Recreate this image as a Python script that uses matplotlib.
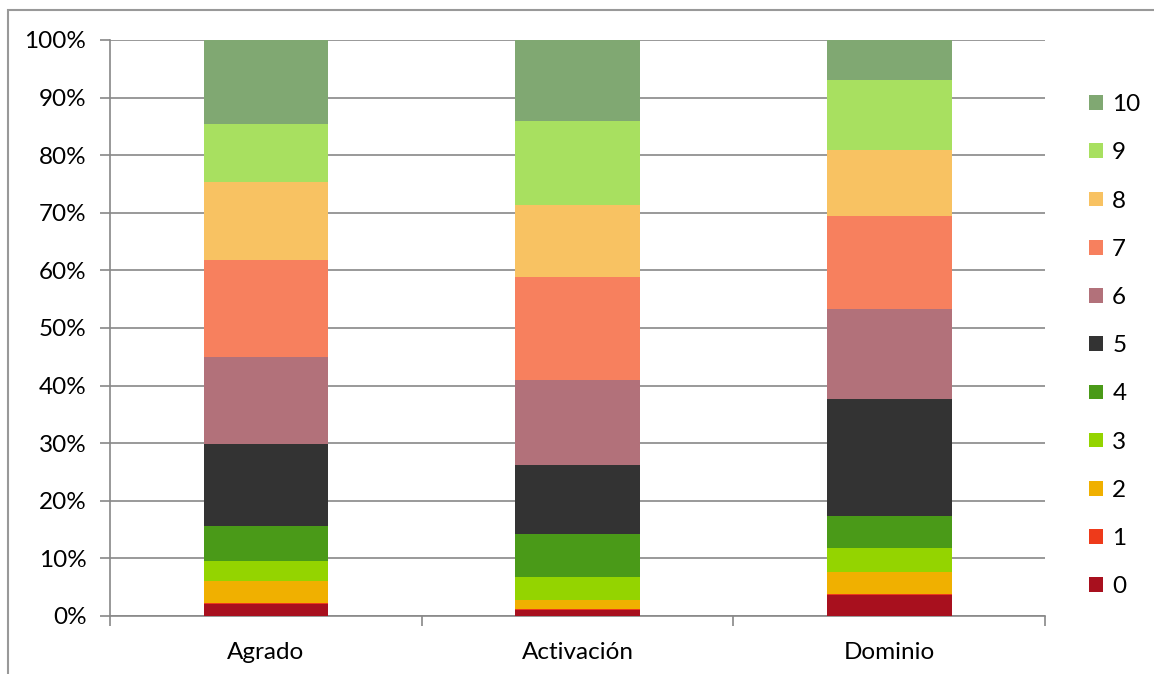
import matplotlib
matplotlib.use("Agg")
import matplotlib.pyplot as plt
from matplotlib.patches import Patch, Rectangle
import numpy as np

categories = ["Agrado", "Activación", "Dominio"]
levels = ["0", "1", "2", "3", "4", "5", "6", "7", "8", "9", "10"]

# percentage of answers per level (rows = levels 0..10, cols = categories)
pct_0 = [2.0, 1.0, 3.6]
pct_1 = [0.3, 0.3, 0.3]
pct_2 = [3.7, 1.4, 3.7]
pct_3 = [3.6, 4.1, 4.2]
pct_4 = [6.0, 7.5, 5.6]
pct_5 = [14.3, 11.9, 20.3]
pct_6 = [15.0, 14.7, 15.6]
pct_7 = [16.9, 17.9, 16.1]
pct_8 = [13.5, 12.6, 11.5]
pct_9 = [10.1, 14.6, 12.1]
pct_10 = [14.6, 14.0, 7.0]

colors = ["#a8101e", "#ee3a1a", "#f0b000", "#94d400", "#4a9a18", "#333333",
          "#b2717a", "#f7805e", "#f8c262", "#a8e060", "#80a872"]

plt.rcParams["font.family"] = ["Lato", "DejaVu Sans"]
fs = 17.5

fig = plt.figure(figsize=(11.54, 6.74), dpi=100)
ax = fig.add_axes([110 / 1154, 58 / 674, 935 / 1154, 576 / 674])

data = np.array([pct_0, pct_1, pct_2, pct_3, pct_4, pct_5,
                 pct_6, pct_7, pct_8, pct_9, pct_10])
x = np.arange(len(categories))
bottom = np.zeros(len(categories))
for i, row in enumerate(data):
    ax.bar(x, row, 0.4, bottom=bottom, color=colors[i], zorder=3)
    bottom += row

ax.set_xlim(-0.5, 2.5)
ax.set_ylim(0, 100)
ax.set_yticks(np.arange(0, 101, 10))
ax.set_yticklabels([f"{v}%" for v in range(0, 101, 10)], fontsize=fs)
ax.yaxis.grid(True, color="#888888", linewidth=1.2, zorder=0)
ax.tick_params(axis="y", length=7, width=1.2, color="#888888", pad=10)

ax.set_xticks(x)
ax.set_xticklabels(categories, fontsize=fs)
ax.tick_params(axis="x", length=0, pad=19)
ax.set_xticks([-0.5, 0.5, 1.5, 2.5], minor=True)
ax.tick_params(axis="x", which="minor", length=7, width=1.2, color="#888888")

for s in ["top", "right"]:
    ax.spines[s].set_visible(False)
for s in ["left", "bottom"]:
    ax.spines[s].set_color("#888888")
    ax.spines[s].set_linewidth(1.2)

handles = [Patch(facecolor=colors[i], label=levels[i]) for i in range(len(levels))][::-1]
fig.legend(handles=handles, loc="center left", bbox_to_anchor=(1077 / 1154, 0.487),
           frameon=False, fontsize=fs, handlelength=0.55, handleheight=0.55,
           handletextpad=0.4, labelspacing=1.12, borderpad=0)

fig.patches.append(Rectangle((8 / 1154, -0.1), 1.2, 1 - 10 / 674 + 0.1,
                             transform=fig.transFigure, fill=False,
                             edgecolor="#999999", linewidth=1.5))

fig.savefig("out.png", dpi=100)
